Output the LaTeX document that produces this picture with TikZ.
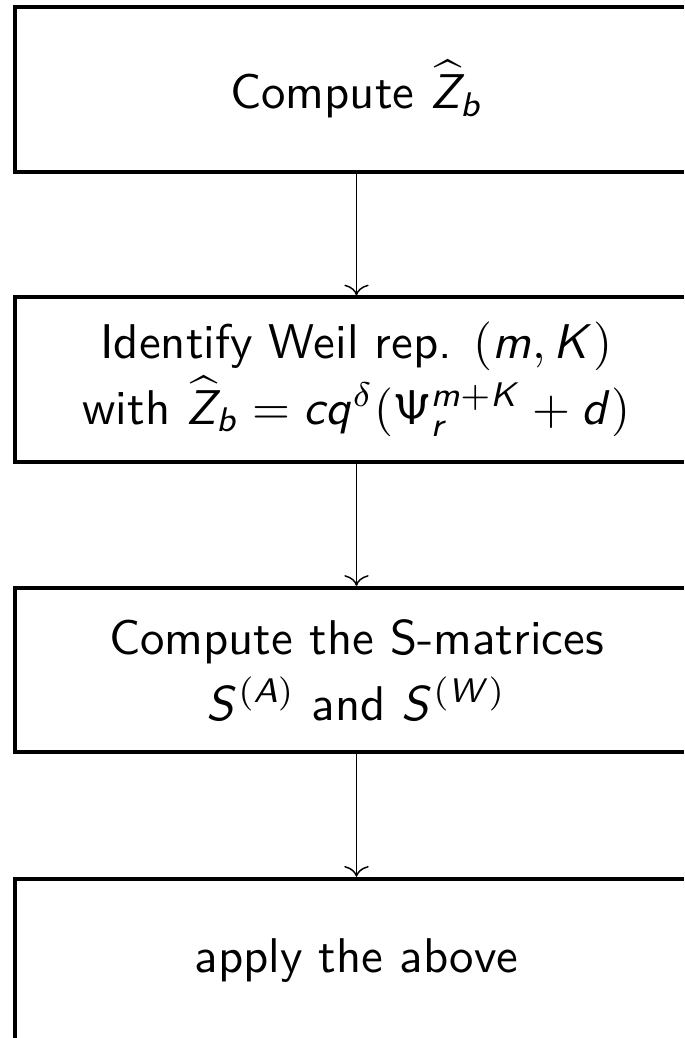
\documentclass[tikz,border=0pt]{standalone}
\usetikzlibrary{arrows.meta}
\DeclareMathAlphabet{\mathsfit}{OT1}{cmss}{m}{sl}
\newcommand\mi[1]{\mathsfit{#1}}
\tikzset{
  stepbox/.style={draw, line width=0.8pt, rectangle, inner sep=0pt,
    minimum width=139.9pt, minimum height=33.7pt, align=center,
    font=\sffamily\fontsize{10pt}{13.5pt}\selectfont},
  flow/.style={line width=0.3pt, -{Computer Modern Rightarrow[length=2.2pt,width=5pt]}}
}
\begin{document}
\begin{tikzpicture}[x=0.205pt, y=-0.205pt]
\useasboundingbox (0,0) rectangle (684,1038);
\clip (0,0) rectangle (684,1038);
\node[stepbox] (b1) at (356.5,89.5) {Compute $\widehat{\mi Z}_{\mi b}$};
\node[stepbox] (b2) at (356.5,379.5) {Identify Weil rep. $(\mi m,\mi K)$\\ with $\widehat{\mi Z}_{\mi b} = \mi c\mi q^{\delta}(\mathsf{\Psi}_{\mi r}^{\mi m+\mi K} + \mi d)$};
\node[stepbox] (b3) at (356.5,670) {Compute the S-matrices\\ $\mi S^{(\mi A)}$ and $\mi S^{(\mi W)}$};
\node[stepbox] (b4) at (356.5,960.9) {apply the above};
\draw[flow] (b1) -- (b2);
\draw[flow] (b2) -- (b3);
\draw[flow] (b3) -- (b4);
\end{tikzpicture}
\end{document}
